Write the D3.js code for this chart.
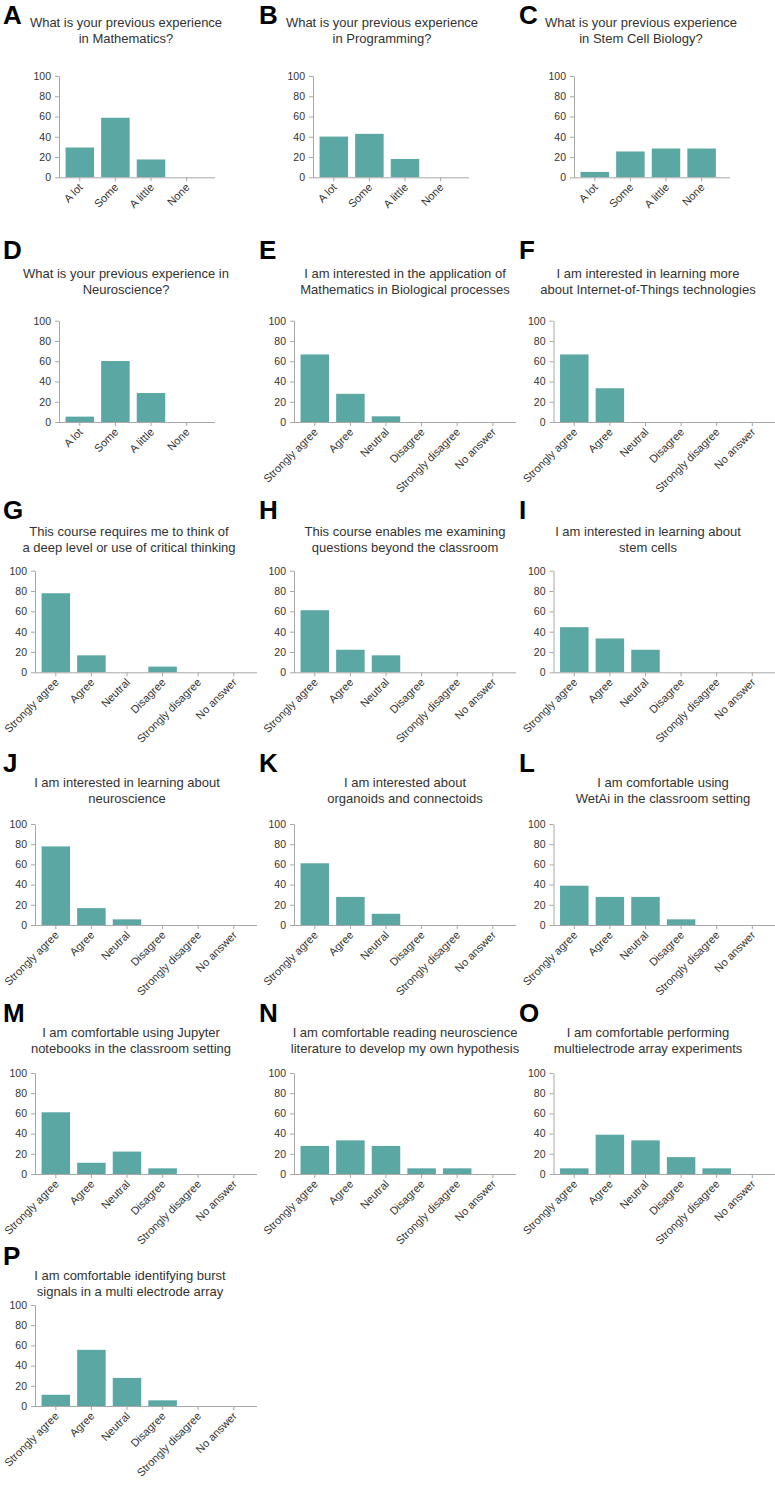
<!DOCTYPE html>
<html><head><meta charset="utf-8">
<script src="https://cdn.jsdelivr.net/npm/d3@7"></script>
<style>
body{margin:0;background:#fff;}
svg{display:block;font-family:"Liberation Sans",Arial,sans-serif;}
</style></head>
<body>
<svg id="chart" width="775" height="1504"></svg>
<script>
// ---------- data ----------
const expCategories = ["A lot", "Some", "A little", "None"];
const likertCategories = ["Strongly agree", "Agree", "Neutral", "Disagree", "Strongly disagree", "No answer"];
const yTicks = [0, 20, 40, 60, 80, 100];
const panelLetters = ["A","B","C","D","E","F","G","H","I","J","K","L","M","N","O","P"];
const panelTitles = [
  ["What is your previous experience", "in Mathematics?"],
  ["What is your previous experience", "in Programming?"],
  ["What is your previous experience", "in Stem Cell Biology?"],
  ["What is your previous experience in", "Neuroscience?"],
  ["I am interested in the application of", "Mathematics in Biological processes"],
  ["I am interested in learning more", "about Internet-of-Things technologies"],
  ["This course requires me to think of", "a deep level or use of critical thinking"],
  ["This course enables me examining", "questions beyond the classroom"],
  ["I am interested in learning about", "stem cells"],
  ["I am interested in learning about", "neuroscience"],
  ["I am interested about", "organoids and connectoids"],
  ["I am comfortable using", "WetAi in the classroom setting"],
  ["I am comfortable using Jupyter", "notebooks in the classroom setting"],
  ["I am comfortable reading neuroscience", "literature to develop my own hypothesis"],
  ["I am comfortable performing", "multielectrode array experiments"],
  ["I am comfortable identifying burst", "signals in a multi electrode array"]
];
const valuesA = [29.4, 58.8, 17.6, 0];
const valuesB = [40.2, 42.9, 18.1, 0];
const valuesC = [5.3, 25.5, 28.4, 28.4];
const valuesD = [5.3, 60.2, 28.6, 0];
const valuesE = [66.7, 27.8, 5.6, 0, 0, 0];
const valuesF = [66.7, 33.3, 0, 0, 0, 0];
const valuesG = [77.8, 16.7, 0, 5.6, 0, 0];
const valuesH = [61.1, 22.2, 16.7, 0, 0, 0];
const valuesI = [44.4, 33.3, 22.2, 0, 0, 0];
const valuesJ = [77.8, 16.7, 5.6, 0, 0, 0];
const valuesK = [61.1, 27.8, 11.1, 0, 0, 0];
const valuesL = [38.9, 27.8, 27.8, 5.6, 0, 0];
const valuesM = [61.1, 11.1, 22.2, 5.6, 0, 0];
const valuesN = [27.8, 33.3, 27.8, 5.6, 5.6, 0];
const valuesO = [5.6, 38.9, 33.3, 16.7, 5.6, 0];
const valuesP = [11.1, 55.6, 27.8, 5.6, 0, 0];
const panelValues = [valuesA,valuesB,valuesC,valuesD,valuesE,valuesF,valuesG,valuesH,
                     valuesI,valuesJ,valuesK,valuesL,valuesM,valuesN,valuesO,valuesP];

// ---------- layout ----------
const rows = [
  {letterY: 24,   titleY: 27,  y100: 76,    y0: 177.3},
  {letterY: 259,  titleY: 278, y100: 320.7, y0: 422},
  {letterY: 519,  titleY: 536, y100: 570.7, y0: 672.3},
  {letterY: 772,  titleY: 787, y100: 824,   y0: 925},
  {letterY: 1022, titleY: 1037, y100: 1073, y0: 1174},
  {letterY: 1265, titleY: 1280, y100: 1305, y0: 1406}
];
const letterX = [3, 259, 519];
const axisLeft4 = [59, 313, 574];
const axisLeft6 = [35, 294, 553.5];
const titleCenters = [126,382,641, 126,405,648, 129,405,648, 127,405,663, 131,405,648, 130];
const step = 35.6;
const barColor = "#5aa7a3";
const axisColor = "#a8a8a8";
const textColor = "#333";

const svg = d3.select("#chart");

panelValues.forEach((vals, i) => {
  const r = rows[Math.floor(i / 3)];
  const c = i % 3;
  const cats = vals.length === 4 ? expCategories : likertCategories;
  const ax = vals.length === 4 ? axisLeft4[c] : axisLeft6[c];
  const axisLen = vals.length === 4 ? 156 : 222;
  const g = svg.append("g");

  // letter
  g.append("text").attr("x", letterX[c]).attr("y", r.letterY)
    .attr("font-size", 26).attr("font-weight", "bold").attr("fill", "#000")
    .text(panelLetters[i]);

  // title
  panelTitles[i].forEach((line, k) => {
    g.append("text").attr("x", titleCenters[i]).attr("y", r.titleY + k * 15.5)
      .attr("text-anchor", "middle").attr("font-size", 13).attr("fill", textColor)
      .text(line);
  });

  const x = d3.scaleBand().domain(cats)
    .range([ax + 3, ax + 3 + cats.length * step])
    .paddingInner(0.2).paddingOuter(0.1);
  const y = d3.scaleLinear().domain([0, 100]).range([r.y0, r.y100]);

  // bars
  g.selectAll("rect.bar").data(cats.map((cat, j) => ({cat, v: vals[j]})))
    .join("rect").attr("class", "bar")
    .attr("x", d => x(d.cat)).attr("width", x.bandwidth())
    .attr("y", d => y(d.v)).attr("height", d => y(0) - y(d.v))
    .attr("fill", barColor);

  // y axis
  const yAx = g.append("g").attr("transform", `translate(${ax},0)`)
    .call(d3.axisLeft(y).tickValues(yTicks).tickSize(4).tickPadding(4).tickSizeOuter(0));
  yAx.select(".domain").attr("stroke", axisColor);
  yAx.selectAll(".tick line").attr("stroke", axisColor);
  yAx.selectAll(".tick text").attr("fill", textColor).attr("font-size", 10.5)
    .attr("font-family", "Liberation Sans, Arial, sans-serif");

  // x axis line
  g.append("line").attr("x1", ax).attr("x2", ax + axisLen)
    .attr("y1", r.y0 + 0.5).attr("y2", r.y0 + 0.5).attr("stroke", axisColor);
  const xAx = g.append("g").attr("transform", `translate(0,${r.y0})`)
    .call(d3.axisBottom(x).tickSize(4).tickSizeOuter(0));
  xAx.select(".domain").remove();
  xAx.selectAll(".tick line").attr("stroke", axisColor);
  xAx.selectAll(".tick text").attr("fill", textColor).attr("font-size", 11)
    .attr("font-family", "Liberation Sans, Arial, sans-serif")
    .attr("text-anchor", "end")
    .attr("transform", "translate(1,8) rotate(-45)")
    .attr("dy", "0.35em").attr("y", 0).attr("x", 0);
});
</script>
</body></html>
